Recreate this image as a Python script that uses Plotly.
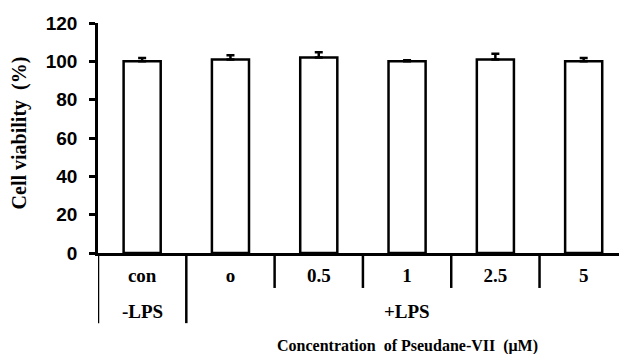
import plotly.graph_objects as go

categories = ["con", "o", "0.5", "1", "2.5", "5"]
viability = [100, 101, 102, 100, 101, 100]
errors = [1.8, 2.2, 2.8, 0.6, 3.0, 1.8]
y_ticks = [0, 20, 40, 60, 80, 100, 120]
group_labels = ["-LPS", "+LPS"]
x_title = "Concentration  of Pseudane-VII  (\u03bcM)"
y_title = "Cell viability  (%)"

serif = "Liberation Serif, Times New Roman, serif"
sans = "Liberation Sans, Arial, sans-serif"

fig = go.Figure()
fig.add_trace(go.Bar(
    x=categories, y=viability, width=0.42,
    marker=dict(color="white", line=dict(color="black", width=2.5)),
    error_y=dict(type="data", array=errors, symmetric=False,
                 arrayminus=[0] * len(errors), color="black",
                 thickness=2.5, width=4),
))

n = len(categories)
shapes = []
# short separators between concentration labels
for i in range(1, n - 1):
    shapes.append(dict(type="line", xref="x", yref="paper", x0=i + 0.5, x1=i + 0.5,
                       y0=0, y1=-0.152, line=dict(color="black", width=2.5)))
# long separators for -LPS / +LPS groups
for xv in (-0.5, 0.5):
    shapes.append(dict(type="line", xref="x", yref="paper", x0=xv, x1=xv,
                       y0=0, y1=-0.305, line=dict(color="black", width=2.5)))

annotations = [
    dict(text="<b>%s</b>" % group_labels[0], x=0, xref="x", y=-0.255, yref="paper",
         showarrow=False, font=dict(family=serif, size=19, color="black"),
         xanchor="center", yanchor="middle"),
    dict(text="<b>%s</b>" % group_labels[1], x=(1 + n - 1) / 2, xref="x", y=-0.255, yref="paper",
         showarrow=False, font=dict(family=serif, size=19, color="black"),
         xanchor="center", yanchor="middle"),
    dict(text="<b>%s</b>" % x_title, x=(1 + n - 1) / 2, xref="x", y=-0.404, yref="paper",
         showarrow=False, font=dict(family=serif, size=16, color="black"),
         xanchor="center", yanchor="middle"),
    dict(text="<b>%s</b>" % y_title, x=(19 - 98) / (619 - 98), xref="paper", y=0.52, yref="paper",
         showarrow=False, textangle=-90, font=dict(family=serif, size=20, color="black"),
         xanchor="center", yanchor="middle"),
]

fig.update_layout(
    width=619, height=354,
    margin=dict(l=98, r=0, t=23, b=101),
    paper_bgcolor="white", plot_bgcolor="white",
    showlegend=False,
    shapes=shapes, annotations=annotations,
    xaxis=dict(type="category", range=[-0.5, 5.4], showline=True, linecolor="black",
               linewidth=2.5, ticks="", showgrid=False, zeroline=False,
               tickfont=dict(family=serif, size=19, color="black"),
               ticklabelstandoff=3,
               tickvals=categories, ticktext=["<b>%s</b>" % c for c in categories]),
    yaxis=dict(range=[0, 120], tickmode="array", tickvals=y_ticks,
               ticktext=["<b>%d</b>" % v for v in y_ticks],
               showline=True, linecolor="black",
               linewidth=2.5, ticks="outside", ticklen=6, tickwidth=2.5,
               tickcolor="black", showgrid=False, zeroline=False,
               tickfont=dict(family=sans, size=19, color="black"),
               ticklabelstandoff=8),
)

fig.write_html("out.html")
